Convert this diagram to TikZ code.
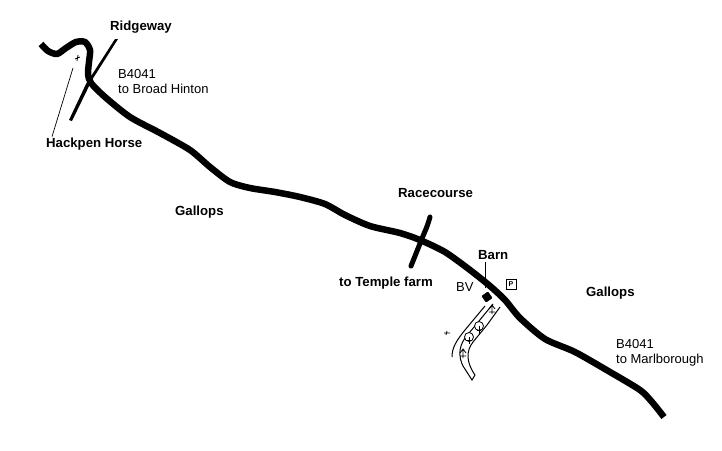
\documentclass[tikz,border=0pt]{standalone}
\usepackage{fontspec}
\setmainfont{Liberation Sans}
\usetikzlibrary{positioning}
\tikzset{
boldlabel/.style={font=\bfseries\fontsize{13.2}{15}\selectfont,inner sep=0pt},
thinlabel/.style={font=\fontsize{13}{15.5}\selectfont,inner sep=0pt,align=left},
road/.style={line width=6.5pt,line join=round,black},
track/.style={line width=1pt,black},
tree/.style={line width=.8pt,black}
}
\begin{document}
\begin{tikzpicture}[x=1pt,y=-1pt]
\useasboundingbox (0,0) rectangle (722,450);
\node[boldlabel,anchor=west] (Ridgeway) at (110,27) {Ridgeway};
\node[thinlabel,anchor=north west] (BroadHinton) at (118,69) {B4041\\to Broad Hinton};
\node[boldlabel,anchor=west] (Hackpen) at (46,144) {Hackpen Horse};
\node[boldlabel,anchor=west] (GallopsW) at (175,212) {Gallops};
\node[boldlabel,anchor=west] (Racecourse) at (398,193) {Racecourse};
\node[boldlabel,anchor=west] (TempleFarm) at (339,283) {to Temple farm};
\node[boldlabel,anchor=west] (Barn) at (478,255) {Barn};
\node[thinlabel,anchor=west] (BV) at (456,287) {BV};
\node[draw,line width=1pt,inner sep=0pt,minimum size=10pt,font=\bfseries\fontsize{7}{7}\selectfont] (Park) at (511,284) {P};
\node[boldlabel,anchor=west] (GallopsE) at (586,293) {Gallops};
\node[thinlabel,anchor=north west] (Marlborough) at (616,339) {B4041\\to Marlborough};
\node[fill=black,rotate=35,minimum size=8pt,inner sep=0pt,rounded corners=1pt] (Dot) at (487,297) {};
\coordinate (HackpenTop) at (73,68);
\draw[road] plot[smooth,tension=.45] coordinates {(41,44) (48,51) (57,54) (66,48) (76,42) (85,42) (90,50) (89,62) (88,74) (91,83)
 (105,97) (130,117) (160,133) (190,150) (210,167) (230,182)
 (250,188) (275,192) (300,197) (325,204) (345,215) (370,226)
 (400,233) (420,240) (445,252) (470,270) (490,286) (505,300)
 (520,318) (545,339) (575,352) (610,372) (640,390) (652,402) (664,417)};
\fill (118,39) -- (92,80) -- (72,121) -- (69,120) -- (86,84) -- (115,39) -- cycle;
\draw[line width=5pt,line cap=round] (430,217) .. controls (427,228) and (424,233) .. (421,241) -- (411,266);
\draw[line width=.7pt] (Hackpen.north west) ++(6,-1) -- (HackpenTop);
\draw[line width=1pt] (Barn.south west) ++(7,2) -- ++(0,26);
\draw[track] (485,306) -- (465,330) .. controls (456,341) and (452,348) .. (452,357);
\draw[track] (493,304) -- (465,338) .. controls (458,348) and (459,358) .. (463,366) -- (472,380) -- (475,375);
\draw[track] (500,307) -- (487,325) -- (473,342) .. controls (466,351) and (466,362) .. (475,375);
\draw[tree,fill=white] (479,326) circle (4.5pt);
\draw[tree,fill=white] (469,337) circle (4.5pt);
\draw[tree] (492,305) -- (492,314) (489,309) -- (492,305) -- (495,309) (489,312) -- (495,312);
\draw[tree] (479,326) -- (479,334) (477,330) -- (481,330);
\draw[tree] (469,337) -- (469,344) (467,340) -- (471,340);
\draw[tree] (463,349) -- (463,358) (460,353) -- (463,349) -- (466,353) (460,356) -- (466,356);
\draw[tree] (444,333) -- (450,333) (447,331) -- (446,335);
\draw[tree] (75,59) -- (80,57) (78,55) -- (77,61);
\end{tikzpicture}
\end{document}
